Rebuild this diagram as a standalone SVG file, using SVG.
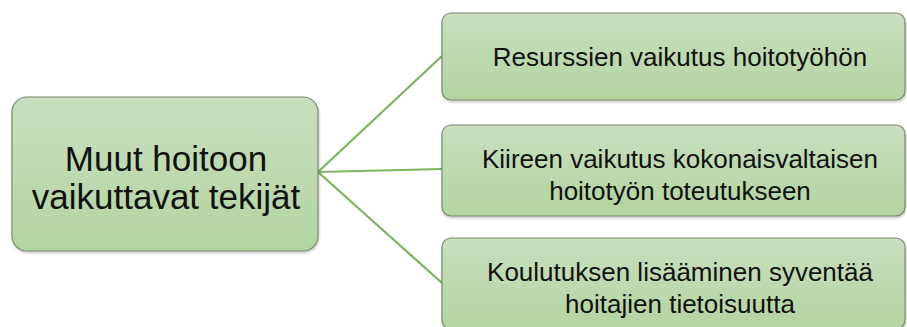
<svg xmlns="http://www.w3.org/2000/svg" width="907" height="327" viewBox="0 0 907 327">
  <defs>
    <linearGradient id="g" x1="0" y1="0" x2="0" y2="1">
      <stop offset="0" stop-color="#c9dfbe"/>
      <stop offset="1" stop-color="#b2d5a0"/>
    </linearGradient>
    <filter id="sh" x="-5%" y="-5%" width="110%" height="115%">
      <feDropShadow dx="0.5" dy="1.5" stdDeviation="1" flood-color="#000" flood-opacity="0.25"/>
    </filter>
  </defs>
  <style>
    .box { fill: url(#g); stroke: #7a8a72; stroke-width: 1.2; filter: url(#sh); }
    .conn { stroke: #7cb45e; stroke-width: 2.2; fill: none; }
    .t { font-family: "Liberation Sans", Arial, sans-serif; fill: #111; text-anchor: middle; }
    .big { font-size: 35px; }
    .small { font-size: 26px; }
  </style>
  <rect width="907" height="327" fill="#fff"/>
  <g id="connectors">
    <line class="conn" x1="318" y1="172" x2="442" y2="56"/>
    <line class="conn" x1="318" y1="172" x2="442" y2="169"/>
    <line class="conn" x1="318" y1="172" x2="442" y2="283"/>
  </g>
  <g id="node-main">
    <rect class="box" x="12" y="97" width="306" height="154" rx="15"/>
    <text class="t big" x="166" y="171">Muut hoitoon</text>
    <text class="t big" x="166" y="209">vaikuttavat tekijät</text>
  </g>
  <g id="node-1">
    <rect class="box" x="442" y="13" width="463" height="87" rx="9"/>
    <text class="t small" x="680" y="66">Resurssien vaikutus hoitotyöhön</text>
  </g>
  <g id="node-2">
    <rect class="box" x="442" y="125" width="463" height="91" rx="9"/>
    <text class="t small" x="680" y="168">Kiireen vaikutus kokonaisvaltaisen</text>
    <text class="t small" x="680" y="200">hoitotyön toteutukseen</text>
  </g>
  <g id="node-3">
    <rect class="box" x="442" y="238" width="463" height="91" rx="9"/>
    <text class="t small" x="680" y="281">Koulutuksen lisääminen syventää</text>
    <text class="t small" x="680" y="313">hoitajien tietoisuutta</text>
  </g>
</svg>
